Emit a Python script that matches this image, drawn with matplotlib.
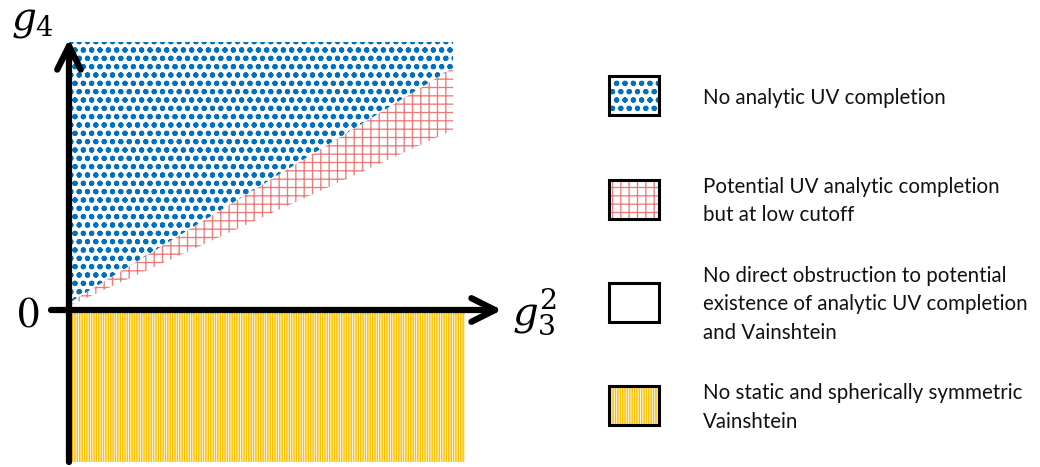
import matplotlib
matplotlib.use("Agg")
import matplotlib.pyplot as plt
import numpy as np

# region boundaries in axis units (g3^2 along x, g4 along y)
g3sq_edge = np.array([0.0, 3.84])
g4_top = np.array([2.68, 2.68])
blue_lower = np.array([0.07, 2.42])
pink_lower = np.array([0.04, 1.80])
yellow_edge = np.array([0.0, 3.96])
yellow_bottom = -1.52

# axis arrows
y_axis_from, y_axis_to = -1.52, 2.71
x_axis_from, x_axis_to = -0.18, 4.33

labels = [
    "No analytic UV completion",
    "Potential UV analytic completion\nbut at low cutoff",
    "No direct obstruction to potential\nexistence of analytic UV completion\nand Vainshtein",
    "No static and spherically symmetric\nVainshtein",
]
# ring + filled dot at the same spots gives solid round dots
hatches = ["oo..", "++", "", "|||||||"]
colors = ["#0070C0", "#EE7A7A", "white", "#FFC000"]
hatch_lw = [1.4, 0.95, 1.0, 1.1]

plt.rcParams["mathtext.fontset"] = "dejavuserif"

fig = plt.figure(figsize=(10.4, 4.67), dpi=100)
ax = fig.add_axes([0, 0, 1, 1])
ax.set_xlim(-0.69, 9.71)
ax.set_ylim(-1.57, 3.10)
ax.axis("off")


def hatched_fill(axis, x, y1, y2, i):
    with plt.rc_context({"hatch.linewidth": hatch_lw[i]}):
        pc = axis.fill_between(x, y1, y2, facecolor="none", edgecolor=colors[i],
                               linewidth=0, hatch=hatches[i], zorder=1)
    if hasattr(pc, "set_hatch_linewidth"):
        pc.set_hatch_linewidth(hatch_lw[i])
    return pc


hatched_fill(ax, g3sq_edge, blue_lower, g4_top, 0)
hatched_fill(ax, g3sq_edge, pink_lower, blue_lower, 1)
hatched_fill(ax, yellow_edge, [yellow_bottom] * 2, [0, 0], 3)

arrow = dict(arrowstyle="->,head_length=1.7,head_width=0.85", lw=4.5,
             color="black", shrinkA=0, shrinkB=0)
ax.annotate("", xy=(0, y_axis_to), xytext=(0, y_axis_from), arrowprops=arrow, zorder=5)
ax.annotate("", xy=(x_axis_to, 0), xytext=(x_axis_from, 0), arrowprops=arrow, zorder=5)

ax.text(-0.58, 2.80, "$g_4$", fontsize=28, ha="left", va="baseline")
ax.text(4.43, -0.15, "$g_3^2$", fontsize=29, ha="left", va="baseline")
ax.text(-0.40, -0.18, "0", fontsize=31, family="STIXGeneral", ha="center", va="baseline")

# legend
ax_leg = fig.add_axes([572 / 1040, 0, 468 / 1040, 1])
ax_leg.set_xlim(0, 4.68)
ax_leg.set_ylim(3.595, -0.930)
ax_leg.axis("off")

rows = np.arange(len(labels))
for i in rows:
    with plt.rc_context({"hatch.linewidth": hatch_lw[i]}):
        bars = ax_leg.barh(i, 0.50, left=0.365, height=0.378, facecolor="white",
                           edgecolor=colors[i], linewidth=0, hatch=hatches[i])
    for b in bars:
        if hasattr(b, "set_hatch_linewidth"):
            b.set_hatch_linewidth(hatch_lw[i])
    ax_leg.text(1.31, i + 0.02, labels[i], ha="left", va="center", fontsize=14.8,
                family="Lato", linespacing=1.52, color="#111111")
ax_leg.barh(rows, 0.50, left=0.365, height=0.378, fill=False,
            edgecolor="black", linewidth=2.2)

fig.savefig("out.png", dpi=100)
